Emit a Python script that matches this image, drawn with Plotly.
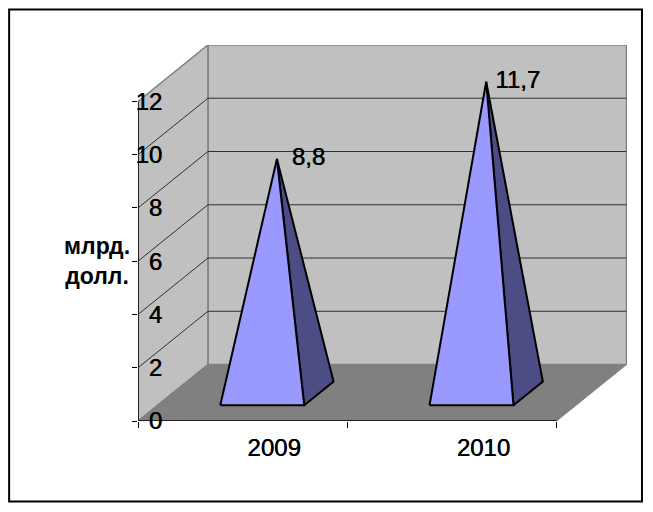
import plotly.graph_objects as go

# Data
categories = ["2009", "2010"]
values = [8.8, 11.7]
value_labels = ["8,8", "11,7"]
y_ticks = [0, 2, 4, 6, 8, 10, 12]
axis_title = "млрд.<br>долл."

# Oblique projection of the chart's depth, in axis units
W, H = 653, 512
L, R, T, B = 138, 627.5, 44.5, 421
CAT_PX = (557 - 138) / 2
UNIT_PX = 26.67
DX = 70 / CAT_PX
DY = 56.5 / UNIT_PX
X0, X1 = -0.5, 1.5
Y_MAX = 12
HALF_W = 42 / CAT_PX
D_FRONT, D_BACK = 0.28, 0.70
D_MID = (D_FRONT + D_BACK) / 2

WALL, FLOOR, EDGE = "#C0C0C0", "#808080", "#808080"
FRONT, SIDE = "#9999FF", "#4D4D85"
FONT = "Liberation Sans, Arial, sans-serif"
SHADOW = "0.5px 0 0 #000000"


def pt(x, y, d):
    return x + d * DX, y + d * DY


def poly(points, fill=None, line=None, width=1):
    xs = [p[0] for p in points]
    ys = [p[1] for p in points]
    return go.Scatter(
        x=xs, y=ys, mode="lines", hoverinfo="skip", showlegend=False,
        fill="toself" if fill else None, fillcolor=fill,
        line=dict(color=line or "rgba(0,0,0,0)", width=width), cliponaxis=False,
    )


fig = go.Figure()

# Walls and floor
fig.add_trace(poly([pt(X0, 0, 1), pt(X1, 0, 1), pt(X1, Y_MAX, 1), pt(X0, Y_MAX, 1), pt(X0, 0, 1)], WALL, EDGE, 1.5))
fig.add_trace(poly([pt(X0, 0, 0), pt(X0, 0, 1), pt(X0, Y_MAX, 1), pt(X0, Y_MAX, 0), pt(X0, 0, 0)], WALL, EDGE, 1.5))
fig.add_trace(poly([pt(X0, 0, 0), pt(X1, 0, 0), pt(X1, 0, 1), pt(X0, 0, 1), pt(X0, 0, 0)], FLOOR, EDGE, 1))

# Gridlines on side wall and back wall
for t in y_ticks[1:-1]:
    fig.add_trace(poly([pt(X0, t, 0), pt(X0, t, 1), pt(X1, t, 1)], None, "#303030", 1))

# Front axis lines
fig.add_trace(poly([(X0, Y_MAX), (X0, 0), (X1, 0)], None, "#000000", 1.5))

# Pyramids
for i, v in enumerate(values):
    apex = pt(i, v, D_MID)
    fl = pt(i - HALF_W, 0, D_FRONT)
    fr = pt(i + HALF_W, 0, D_FRONT)
    br = pt(i + HALF_W, 0, D_BACK)
    fig.add_trace(poly([fr, br, apex, fr], SIDE, "#000000", 2))
    fig.add_trace(poly([fl, fr, apex, fl], FRONT, "#000000", 2))

# Data labels
fig.add_trace(go.Scatter(
    x=[pt(i, v, D_MID)[0] + 31.5 / CAT_PX for i, v in enumerate(values)],
    y=[pt(i, v, D_MID)[1] for i, v in enumerate(values)],
    mode="text", text=value_labels, textposition="middle center",
    textfont=dict(family=FONT, size=24, color="#000000", shadow=SHADOW),
    hoverinfo="skip", showlegend=False, cliponaxis=False,
))

fig.update_layout(
    width=W, height=H,
    margin=dict(l=L, r=W - R, t=T, b=H - B, pad=0),
    paper_bgcolor="#FFFFFF", plot_bgcolor="rgba(0,0,0,0)",
    showlegend=False,
    font=dict(family=FONT, size=24, color="#000000"),
    xaxis=dict(
        range=[X0, X0 + (R - L) / CAT_PX],
        tickmode="array",
        tickvals=[i + 0.15 for i in range(len(categories))],
        ticktext=categories,
        tickfont=dict(family=FONT, size=24, color="#000000", shadow=SHADOW),
        ticks="outside", ticklen=0, tickwidth=1,
        ticklabelstandoff=5,
        showgrid=False, zeroline=False, showline=False,
        minor=dict(tickmode="array", tickvals=[X0, 0.5, X1], ticks="outside",
                   ticklen=6, tickwidth=1, tickcolor="#000000", showgrid=False),
    ),
    yaxis=dict(
        range=[0, (B - T) / UNIT_PX],
        tickmode="array", tickvals=y_ticks, ticktext=[str(t) for t in y_ticks],
        tickfont=dict(family=FONT, size=24, color="#000000", shadow=SHADOW),
        ticks="outside", ticklen=5, tickwidth=1, tickcolor="#000000",
        ticklabelstandoff=-35,
        showgrid=False, zeroline=False, showline=False,
    ),
    shapes=[dict(
        type="rect", xref="paper", yref="paper", layer="above",
        x0=(9 - L) / (R - L), x1=(642.5 - L) / (R - L),
        y0=(B - 501.5) / (B - T), y1=(B - 9) / (B - T),
        line=dict(color="#000000", width=2), fillcolor="rgba(0,0,0,0)",
    )],
    annotations=[dict(
        xref="paper", yref="paper",
        x=(97 - L) / (R - L), y=(B - 261) / (B - T),
        text="<b>" + axis_title.replace("<br>", "</b><br><b>") + "</b>",
        showarrow=False, align="center", xanchor="center", yanchor="middle",
        font=dict(family=FONT, size=23, color="#000000"),
    )],
)

fig.write_html("out.html", config={"displayModeBar": False},
               post_script="document.body.style.margin='0';")
